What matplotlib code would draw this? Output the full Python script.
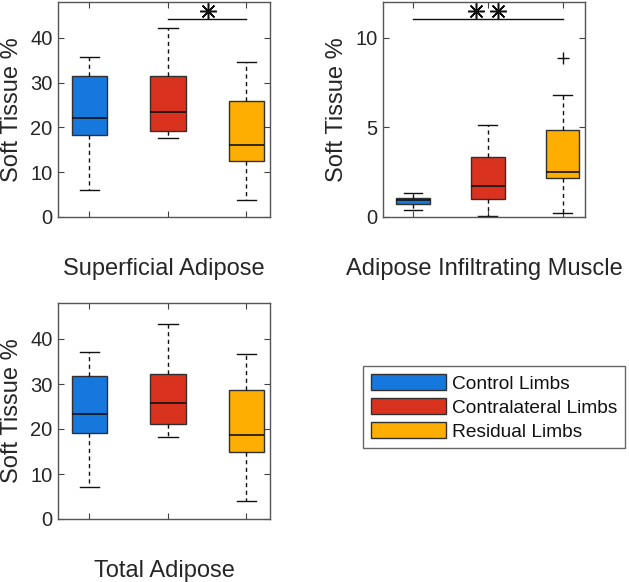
import matplotlib
matplotlib.use("Agg")
import matplotlib.pyplot as plt
from matplotlib.patches import Patch

plt.rcParams['font.family'] = ['Liberation Sans', 'DejaVu Sans']

# groups and colours
groups = ["Control Limbs", "Contralateral Limbs", "Residual Limbs"]
colors = ["#1677dc", "#d9331f", "#fdae00"]

# box stats: (lower whisker, Q1, median, Q3, upper whisker)
superficial = [(6.1, 18.3, 22.2, 31.4, 35.7),
               (17.6, 19.2, 23.5, 31.5, 42.2),
               (3.7, 12.6, 16.1, 26.0, 34.5)]
infiltrating = [(0.38, 0.73, 0.94, 1.07, 1.35),
                (0.04, 0.98, 1.74, 3.35, 5.12),
                (0.22, 2.15, 2.5, 4.84, 6.8)]
infiltrating_fliers = [[], [], [8.88]]
total = [(7.2, 19.1, 23.3, 31.8, 37.1),
         (18.3, 21.2, 25.8, 32.2, 43.3),
         (4.0, 14.8, 18.7, 28.7, 36.7)]

# significance bars: (from group, to group, bar height, star x positions, star height)
sig_superficial = (2, 3, 44.1, [2.51], 46.0)
sig_infiltrating = (1, 3, 11.03, [1.84, 2.14], 11.5)

W, H = 629, 582
fig = plt.figure(figsize=(W / 100, H / 100), dpi=100)

def make_ax(x0, y0, x1, y1):
    return fig.add_axes([x0 / W, 1 - y1 / H, (x1 - x0) / W, (y1 - y0) / H])

def draw_panel(ax, stats, fliers, ylim, yticks, title, sig=None):
    bstats = []
    for i, s in enumerate(stats):
        bstats.append(dict(whislo=s[0], q1=s[1], med=s[2], q3=s[3], whishi=s[4],
                           fliers=fliers[i] if fliers else []))
    bp = ax.bxp(bstats, positions=[1, 2, 3], widths=0.45, capwidths=0.25,
                patch_artist=True, showfliers=True,
                boxprops=dict(edgecolor="#303030", linewidth=1.0),
                medianprops=dict(color="#111111", linewidth=1.2),
                whiskerprops=dict(color="#111111", linestyle=(0, (3, 2.5)), linewidth=1.0),
                capprops=dict(color="#111111", linewidth=1.0),
                flierprops=dict(marker="+", markersize=9, markeredgecolor="#111111",
                                markeredgewidth=1.0))
    for patch, c in zip(bp['boxes'], colors):
        patch.set_facecolor(c)
    ax.set_xlim(0.6, 3.3)
    ax.set_ylim(*ylim)
    ax.set_yticks(yticks)
    ax.set_xticks([1, 2, 3])
    ax.set_xticklabels(["", "", ""])
    ax.tick_params(direction="in", top=True, right=True, length=4, width=0.8,
                   colors="#404040", labelsize=14.5, labelcolor="#262626", pad=4)
    for sp in ax.spines.values():
        sp.set_color("#555555")
        sp.set_linewidth(1.0)
    ax.set_ylabel("Soft Tissue %", fontsize=17, color="#262626", labelpad=5)
    ax.set_xlabel(title, fontsize=17, color="#262626", labelpad=25.5)
    if sig:
        a, b, yb, xs, ys = sig
        ax.plot([a, b], [yb, yb], color="#111111", linewidth=1.0)
        ax.plot(xs, [ys] * len(xs), linestyle="none", marker=(8, 2, 0),
                markersize=12, markeredgecolor="#111111", markeredgewidth=1.1)

ax1 = make_ax(58, 2, 270, 217)
draw_panel(ax1, superficial, None, (0, 48), [0, 10, 20, 30, 40],
           "Superficial Adipose", sig_superficial)

ax2 = make_ax(383, 2, 585, 217)
draw_panel(ax2, infiltrating, infiltrating_fliers, (0, 12), [0, 5, 10],
           "Adipose Infiltrating Muscle", sig_infiltrating)

ax3 = make_ax(58, 303, 270, 519)
draw_panel(ax3, total, None, (0, 48), [0, 10, 20, 30, 40], "Total Adipose")

handles = [Patch(facecolor=c, edgecolor="#303030", linewidth=1.0) for c in colors]
leg = fig.legend(handles, groups, loc="upper left",
                 bbox_to_anchor=(363 / W, 1 - 366 / H), borderaxespad=0,
                 fontsize=13.8, handlelength=3.95, handleheight=0.95,
                 labelspacing=0.27, handletextpad=0.31, borderpad=0.4,
                 fancybox=False, edgecolor="#666666", framealpha=1)
leg.get_frame().set_linewidth(1.0)
for t in leg.get_texts():
    t.set_color("#111111")

fig.savefig("out.png", dpi=100)
